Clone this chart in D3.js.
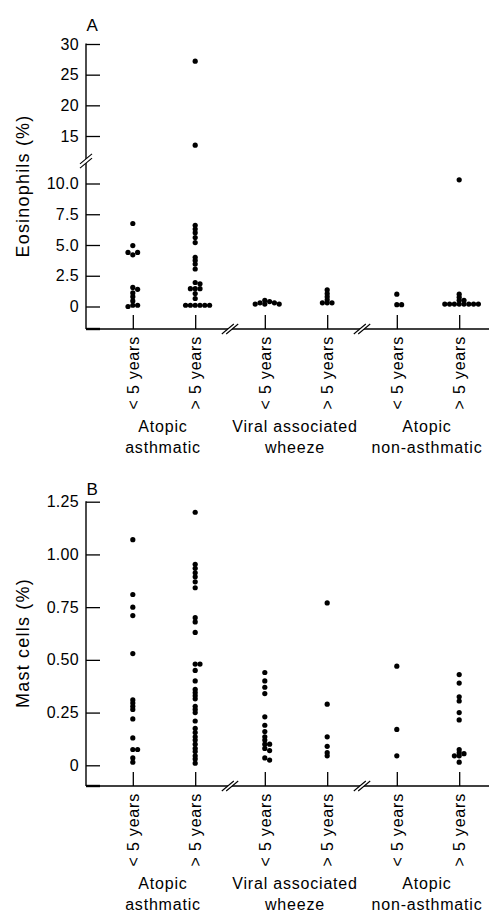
<!DOCTYPE html>
<html>
<head>
<meta charset="utf-8">
<script src="https://cdn.jsdelivr.net/npm/d3@7/dist/d3.min.js"></script>
<style>
  body { margin: 0; background: #fff; }
  text { font-family: "Liberation Sans", Arial, sans-serif; fill: #000; }
</style>
</head>
<body>
<div id="chart"></div>
<script>
// categories
var groupNames = ["atopic", "viral", "nonasthma"];
var groupLines = [["Atopic", "asthmatic"], ["Viral associated", "wheeze"], ["Atopic", "non-asthmatic"]];
var ages = ["< 5 years", "> 5 years"];

// tick labels
var eosUpperTicks = [15, 20, 25, 30];
var eosLowerTicks = [0, 2.5, 5, 7.5, 10];
var mastTicks = [0, 0.25, 0.5, 0.75, 1, 1.25];

// panel A: eosinophils (%), one array per group/age column
var eosAtopicYoung = [6.75, 4.95, 4.2, 4.4, 4.4, 1.55, 1.4, 1.1, 0.8, 0.45, 0.1, 0.1, 0.0];
var eosAtopicOld = [27.2, 13.5, 6.6, 6.3, 6.0, 5.6, 5.2, 4.0, 3.75, 3.45, 3.05, 1.95, 1.85,
  1.45, 1.45, 1.45, 1.05, 0.65, 0.1, 0.1, 0.1, 0.1, 0.1, 0.1];
var eosViralYoung = [0.5, 0.4, 0.3, 0.3, 0.2, 0.2, 0.2];
var eosViralOld = [1.35, 1.05, 0.8, 0.55, 0.3, 0.3, 0.3];
var eosNonAsthYoung = [1.0, 0.15, 0.15];
var eosNonAsthOld = [10.3, 1.0, 0.75, 0.5, 0.5, 0.2, 0.2, 0.2, 0.2, 0.2, 0.2, 0.2, 0.2];

// panel B: mast cells (%)
var mastAtopicYoung = [1.07, 0.81, 0.75, 0.71, 0.53, 0.31, 0.295, 0.28, 0.265, 0.22, 0.13,
  0.075, 0.075, 0.035, 0.015];
var mastAtopicOld = [1.2, 0.953, 0.934, 0.913, 0.894, 0.87, 0.842, 0.70, 0.68, 0.63, 0.48, 0.48,
  0.45, 0.40, 0.36, 0.345, 0.33, 0.315, 0.28, 0.265, 0.25, 0.21, 0.175, 0.155, 0.135, 0.12,
  0.10, 0.08, 0.065, 0.045, 0.03, 0.01];
var mastViralYoung = [0.44, 0.40, 0.37, 0.34, 0.23, 0.19, 0.16, 0.135, 0.12, 0.10, 0.10, 0.08,
  0.07, 0.035, 0.025];
var mastViralOld = [0.77, 0.29, 0.135, 0.09, 0.06, 0.045];
var mastNonAsthYoung = [0.47, 0.17, 0.045];
var mastNonAsthOld = [0.43, 0.39, 0.325, 0.305, 0.25, 0.215, 0.075, 0.06, 0.055, 0.045, 0.045, 0.015];

var eosCols = [eosAtopicYoung, eosAtopicOld, eosViralYoung, eosViralOld, eosNonAsthYoung, eosNonAsthOld];
var mastCols = [mastAtopicYoung, mastAtopicOld, mastViralYoung, mastViralOld, mastNonAsthYoung, mastNonAsthOld];

var width = 489, height = 911;
var axisX = 86;       // y axis line
var tickLen = 14;
var dotR = 2.6;

var svg = d3.select("#chart").append("svg")
  .attr("width", width).attr("height", height);

// x scales shared by both panels
var xGroup = d3.scaleBand().domain(groupNames).range([98, 494]).paddingInner(0).paddingOuter(0);
var xAge = d3.scalePoint().domain(ages).range([0, xGroup.bandwidth()]).padding(0.558);
var colKeys = [];
groupNames.forEach(function(g) { ages.forEach(function(a) { colKeys.push(g + "|" + a); }); });
var xCol = d3.scaleOrdinal().domain(colKeys).range(colKeys.map(function(k) {
  var p = k.split("|");
  return xGroup(p[0]) + xAge(p[1]);
}));

// beeswarm-ish dodge: keep a column, push sideways when two dots sit too close
function dodge(vals, yFn, step, minDy) {
  var placed = [];
  return vals.map(function(v) {
    var y = yFn(v), off = 0;
    for (var i = 0; i < 40; i++) {
      off = i === 0 ? 0 : (i % 2 ? 1 : -1) * Math.ceil(i / 2) * step;
      var hit = placed.some(function(p) {
        return Math.abs(p.dx - off) < step * 0.5 && Math.abs(p.y - y) < minDy;
      });
      if (!hit) break;
    }
    var p = { v: v, y: y, dx: off };
    placed.push(p);
    return p;
  });
}

// "//" break marks
function breakMark(cx, cy, vertical) {
  var sx = vertical ? 0 : 2.2, sy = vertical ? 2.2 : 0;
  var a = [[cx - 6 - sx, cy + 5 - sy], [cx + 6 - sx, cy - 5 - sy]];
  var b = [[cx - 6 + sx, cy + 5 + sy], [cx + 6 + sx, cy - 5 + sy]];
  svg.append("polygon")
    .attr("points", [a[0], a[1], b[1], b[0]].map(function(p) { return p.join(","); }).join(" "))
    .attr("fill", "#fff");
  [a, b].forEach(function(l) {
    svg.append("line")
      .attr("x1", l[0][0]).attr("y1", l[0][1]).attr("x2", l[1][0]).attr("y2", l[1][1])
      .attr("stroke", "#000").attr("stroke-width", 1.1);
  });
}

function styleAxis(g, size, spacing) {
  g.attr("font-size", size).attr("font-family", null);
  g.selectAll("text").attr("letter-spacing", spacing);
  g.selectAll(".tick line").attr("stroke", "#000").attr("stroke-width", 1.3);
  g.select(".domain").remove();
}

function yAxis(scale, ticks, fmt) {
  var g = svg.append("g")
    .attr("transform", "translate(" + axisX + ",0)")
    .call(d3.axisLeft(scale).tickValues(ticks).tickFormat(fmt)
      .tickSizeInner(-tickLen).tickSizeOuter(0).tickPadding(7));
  styleAxis(g, 16, 0.3);
}

function drawPanel(cfg) {
  // axis lines
  svg.append("line").attr("x1", axisX).attr("x2", axisX)
    .attr("y1", cfg.top).attr("y2", cfg.base)
    .attr("stroke", "#000").attr("stroke-width", 1.4);
  svg.append("line").attr("x1", axisX).attr("x2", width)
    .attr("y1", cfg.base).attr("y2", cfg.base)
    .attr("stroke", "#000").attr("stroke-width", 1.4);
  svg.append("line").attr("x1", axisX).attr("x2", axisX + tickLen)
    .attr("y1", cfg.base).attr("y2", cfg.base)
    .attr("stroke", "#000").attr("stroke-width", 2.4);

  cfg.yAxes.forEach(function(a) { yAxis(a[0], a[1], a[2]); });

  // x axis: inward ticks, rotated age labels
  var gx = svg.append("g")
    .attr("transform", "translate(0," + cfg.base + ")")
    .call(d3.axisBottom(xCol).tickFormat(function(k) { return k.split("|")[1]; })
      .tickSizeInner(-tickLen).tickSizeOuter(0));
  styleAxis(gx, 16, 0.8);
  gx.selectAll(".tick text")
    .attr("transform", "rotate(-90)")
    .attr("x", -7).attr("y", 0).attr("dy", "0.36em")
    .attr("text-anchor", "end");

  // group labels
  groupNames.forEach(function(g, i) {
    var cx = xGroup(g) + xGroup.bandwidth() / 2 - 1;
    groupLines[i].forEach(function(line, j) {
      svg.append("text")
        .attr("x", cx).attr("y", cfg.base + 103 + j * 20.5)
        .attr("text-anchor", "middle")
        .attr("font-size", 16).attr("letter-spacing", 0.8)
        .text(line);
    });
  });

  // break marks on x axis between groups
  for (var i = 1; i < groupNames.length; i++) {
    breakMark(xGroup(groupNames[i]), cfg.base, false);
  }
  if (cfg.yBreak) breakMark(axisX, cfg.yBreak, true);

  // dots
  cfg.cols.forEach(function(vals, i) {
    var cx = xCol(colKeys[i]);
    var pts = dodge(vals, cfg.yValue, 4.8, 2.6);
    svg.append("g").selectAll("circle").data(pts).enter()
      .append("circle")
      .attr("cx", function(d) { return cx + d.dx; })
      .attr("cy", function(d) { return d.y; })
      .attr("r", dotR)
      .attr("fill", "#000");
  });

  // y title
  svg.append("text")
    .attr("transform", "translate(29," + cfg.titleY + ") rotate(-90)")
    .attr("text-anchor", "middle")
    .attr("font-size", 18).attr("letter-spacing", 1.2)
    .text(cfg.title);

  // panel letter
  svg.append("text")
    .attr("x", axisX + 0.5).attr("y", cfg.letterY)
    .attr("font-size", 17)
    .text(cfg.letter);
}

// panel A: broken y axis
var yEosUp = d3.scaleLinear().domain([15, 30]).range([136, 44]);
var yEosLow = d3.scaleLinear().domain([0, 10]).range([306.5, 183.5]);
var fmtEos = function(d) { return d === 0 ? "0" : (d >= 15 ? d3.format("d")(d) : d3.format(".1f")(d)); };

drawPanel({
  letter: "A", letterY: 30.5,
  top: 43.5, base: 329, yBreak: 161,
  title: "Eosinophils (%)", titleY: 186,
  yAxes: [[yEosUp, eosUpperTicks, fmtEos], [yEosLow, eosLowerTicks, fmtEos]],
  yValue: function(v) { return v > 11.5 ? yEosUp(v) : yEosLow(v); },
  cols: eosCols
});

// panel B
var yMast = d3.scaleLinear().domain([0, 1.25]).range([765.3, 501.7]);
var fmtMast = function(d) { return d === 0 ? "0" : d3.format(".2f")(d); };

drawPanel({
  letter: "B", letterY: 495,
  top: 501.2, base: 786, yBreak: null,
  title: "Mast cells (%)", titleY: 643,
  yAxes: [[yMast, mastTicks, fmtMast]],
  yValue: function(v) { return yMast(v); },
  cols: mastCols
});
</script>
</body>
</html>
